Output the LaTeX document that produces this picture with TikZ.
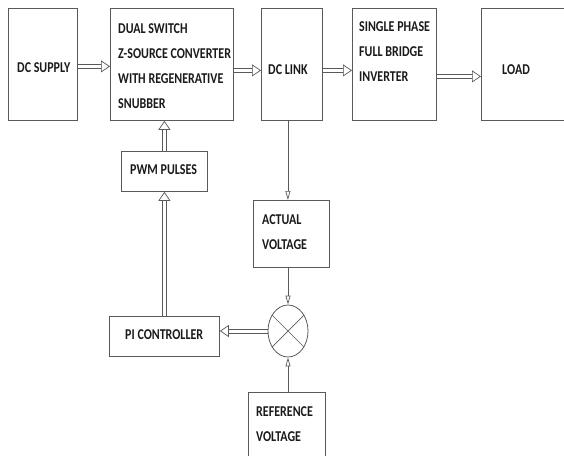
\documentclass[tikz,border=0pt]{standalone}
\usepackage{fontspec}
\setmainfont{Carlito}[FakeStretch=0.8]
\usetikzlibrary{arrows.meta,shapes.geometric,calc}
\definecolor{ln}{HTML}{595959}
\definecolor{tx}{HTML}{1A1A1A}
% #1 start, #2 end, #3 xshift (vertical arrow) or yshift (horizontal arrow)
\newcommand{\dblarr}[3]{%
  \coordinate (dbe) at ($(#2)!7pt!(#1)$);
  \draw[shaftline] ([#3=2.1pt]#1) -- ([#3=2.1pt]dbe);
  \draw[shaftline] ([#3=-2.1pt]#1) -- ([#3=-2.1pt]dbe);
  \draw[dbltip] ($(#2)!1.5pt!(#1)$) -- (#2);}
\begin{document}
\begin{tikzpicture}[x=1pt,y=-1pt,
  box/.style={draw=ln,line width=0.8pt,rectangle,inner sep=0pt,anchor=north west},
  txt/.style={inner sep=0pt,anchor=west,align=left,text=tx,font=\bfseries\fontsize{15}{25}\selectfont},
  shaftline/.style={draw=ln,line width=0.7pt},
  dbltip/.style={draw=ln,line width=0.7pt,-{Triangle[fill=white,length=9pt,width=12pt]}},
  sgl/.style={draw=ln,line width=0.7pt,-{Triangle[open,length=9pt,width=5pt]}}]
\useasboundingbox (0,0) rectangle (564,455);
% boxes
\node[box,minimum width=69pt,minimum height=112pt] (sup) at (8,8) {};
\node[box,minimum width=123pt,minimum height=112pt] (conv) at (110,8) {};
\node[box,minimum width=61pt,minimum height=112pt] (link) at (261,8) {};
\node[box,minimum width=84pt,minimum height=112pt] (inv) at (352,8) {};
\node[box,minimum width=85pt,minimum height=112pt] (load) at (481,8) {};
\node[box,minimum width=86pt,minimum height=40pt] (pwm) at (121,151) {};
\node[box,minimum width=76pt,minimum height=67pt] (act) at (253,200) {};
\node[box,minimum width=110pt,minimum height=40pt] (pi) at (109,316) {};
\node[box,minimum width=77pt,minimum height=70pt] (ref) at (248,392) {};
\node[draw=ln,line width=0.8pt,ellipse,minimum width=40pt,minimum height=52pt,inner sep=0pt] (circ) at (288,331) {};
\draw[ln,line width=0.7pt] (circ.45) -- (circ.225) (circ.135) -- (circ.315);
% texts
\node[txt] (supt) at (17,68) {DC SUPPLY};
\node[txt] (convt) at (118,66) {DUAL SWITCH\\Z-SOURCE CONVERTER\\WITH REGENERATIVE\\SNUBBER};
\node[txt] (linkt) at (268,70) {DC LINK};
\node[txt] (invt) at (359,52) {SINGLE PHASE\\FULL BRIDGE\\INVERTER};
\node[txt] (loadt) at (502,70) {LOAD};
\node[txt] (pwmt) at (130,170) {PWM PULSES};
\node[txt] (actt) at (262,232.5) {ACTUAL\\VOLTAGE};
\node[txt] (pit) at (125,335) {PI CONTROLLER};
\node[txt] (reft) at (256,424) {REFERENCE\\VOLTAGE};
% connectors
\coordinate (a1) at ([yshift=-2pt]sup.east);   \coordinate (b1) at ([yshift=-2pt]conv.west);
\coordinate (a2) at ([yshift=-6pt]conv.east);  \coordinate (b2) at ([yshift=-6pt]link.west);
\coordinate (a3) at ([yshift=-6pt]link.east);  \coordinate (b3) at ([yshift=-6pt]inv.west);
\coordinate (a4) at ([yshift=-12pt]inv.east);  \coordinate (b4) at ([yshift=-12pt]load.west);
\coordinate (b5) at (pwm.north |- conv.south);
\coordinate (b6) at (pi.north |- pwm.south);
\coordinate (b7) at (circ.west -| pi.east);
\dblarr{a1}{b1}{yshift}
\dblarr{a2}{b2}{yshift}
\dblarr{a3}{b3}{yshift}
\dblarr{a4}{b4}{yshift}
\dblarr{pwm.north}{b5}{xshift}
\dblarr{pi.north}{b6}{xshift}
\dblarr{circ.west}{b7}{yshift}
\draw[sgl] ([xshift=-4pt]link.south) -- ([xshift=-4pt]link.south |- act.north);
\draw[sgl] (circ.north |- act.south) -- (circ.north);
\draw[sgl] (circ.south |- ref.north) -- (circ.south);
\end{tikzpicture}
\end{document}
